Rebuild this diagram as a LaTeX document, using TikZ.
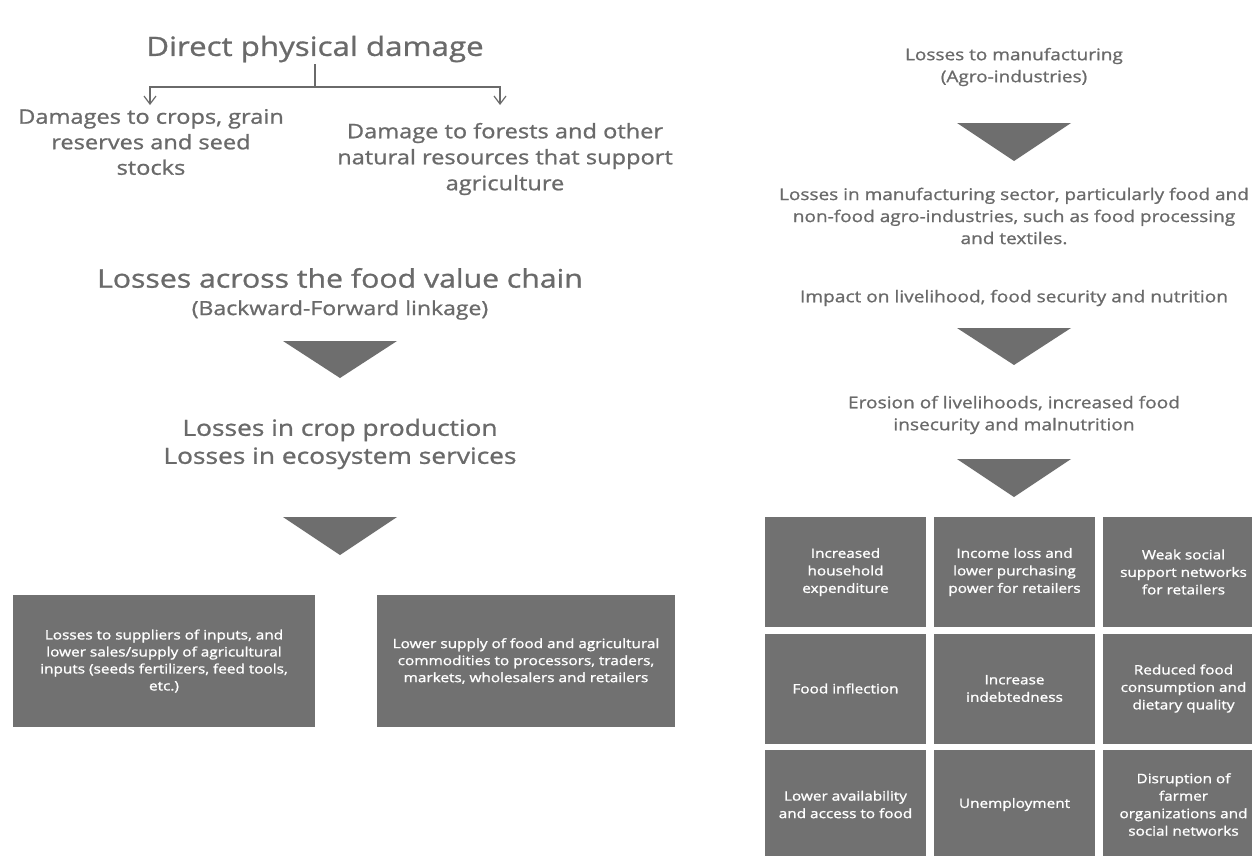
\documentclass[tikz,border=0pt]{standalone}
\usepackage{fontspec}
\setmainfont{Open Sans}[FakeStretch=1.18, FakeBold=1.0]
\newfontfamily\wfont{Open Sans}[FakeStretch=1.18, FakeBold=1.3]
\usetikzlibrary{arrows.meta}
\definecolor{txtgray}{HTML}{6A6A6A}
\definecolor{boxgray}{HTML}{717171}
\definecolor{trigray}{HTML}{6E6E6E}
\newcommand{\fs}[2]{\fontsize{#1}{#2}\selectfont}
\tikzset{
  txt/.style={text=txtgray, align=center, inner sep=0pt},
  gbox/.style={fill=boxgray, text=white, align=center, inner sep=0pt,
    minimum width=161, minimum height=110, font=\wfont\fs{13}{17.5}},
  lbox/.style={fill=boxgray, text=white, align=center, inner sep=0pt,
    font=\wfont\fs{13}{17}},
  tri/.style={fill=trigray},
  branch/.style={draw=txtgray, line width=1.3pt},
  barrow/.style={branch, -{Straight Barb[length=8pt,width=12pt,line width=1.2pt]}}
}
\begin{document}
\begin{tikzpicture}[x=1pt,y=-1pt]
\useasboundingbox (0,0) rectangle (1252,855);
\clip (0,0) rectangle (1252,855);
\fill[white] (0,0) rectangle (1252,855);

% ---------- left column ----------
\node[txt, font=\fs{26.5}{32}] (dpd) at (315,49) {Direct physical damage};
\coordinate (junc) at (315,87);
\coordinate (brL) at (150,105);
\coordinate (brR) at (500,105);
\draw[branch] (dpd.south) ++(0,2) coordinate (dpdb) (dpdb) -- (junc);
\draw[barrow] (junc) -| (brL);
\draw[barrow] (junc) -| (brR);
\node[txt, font=\fs{20}{25.5}] (dmgL) at (151,142)
  {Damages to crops, grain\\reserves and seed\\stocks};
\node[txt, font=\fs{20}{26}] (dmgR) at (505,159)
  {Damage to forests and other\\natural resources that support\\agriculture};

\node[txt, font=\fs{25.6}{30}] (lac) at (340,278) {Losses across the food value chain};
\node[txt, font=\fs{19.5}{23}] (lbf) at (340,310) {(Backward-Forward linkage)};
\fill[tri] (283,341) -- (397,341) -- (340,378) -- cycle;
\node[txt, font=\fs{22.3}{28}] (lcp) at (340,444)
  {Losses in crop production\\Losses in ecosystem services};
\fill[tri] (283,517) -- (397,517) -- (340,555) -- cycle;

\node[lbox, minimum width=302, minimum height=132] (sup) at (164,661)
  {Losses to suppliers of inputs, and\\lower sales/supply of agricultural\\inputs (seeds fertilizers, feed tools,\\etc.)};
\node[lbox, minimum width=298, minimum height=132] (low) at (526,661)
  {Lower supply of food and agricultural\\commodities to processors, traders,\\markets, wholesalers and retailers};

% ---------- right column ----------
\node[txt, font=\fs{16.1}{22}] (ltm) at (1014,67)
  {Losses to manufacturing\\(Agro-industries)};
\fill[tri] (957,123) -- (1071,123) -- (1014,161) -- cycle;
\node[txt, font=\fs{16.1}{22}] (lms) at (1014,216)
  {Losses in manufacturing sector, particularly food and\\non-food agro-industries, such as food processing\\and textiles.};
\node[txt, font=\fs{16.2}{22}] (imp) at (1014,298)
  {Impact on livelihood, food security and nutrition};
\fill[tri] (957,328) -- (1071,328) -- (1014,365) -- cycle;
\node[txt, font=\fs{16.2}{22}] (ero) at (1014,415)
  {Erosion of livelihoods, increased food\\insecurity and malnutrition};
\fill[tri] (957,459) -- (1071,459) -- (1014,497) -- cycle;

% grid
\node[gbox] (g11) at (845.5,572) {Increased\\household\\expenditure};
\node[gbox] (g12) at (1014.5,572) {Income loss and\\lower purchasing\\power for retailers};
\node[gbox] (g13) at (1183.5,572) {Weak social\\support networks\\for retailers};
\node[gbox] (g21) at (845.5,688.5) {Food inflection};
\node[gbox] (g22) at (1014.5,688.5) {Increase\\indebtedness};
\node[gbox] (g23) at (1183.5,688.5) {Reduced food\\consumption and\\dietary quality};
\node[gbox] (g31) at (845.5,804.5) {Lower availability\\and access to food};
\node[gbox] (g32) at (1014.5,804.5) {Unemployment};
\node[gbox] (g33) at (1183.5,804.5) {Disruption of\\farmer\\organizations and\\social networks};
\end{tikzpicture}
\end{document}
